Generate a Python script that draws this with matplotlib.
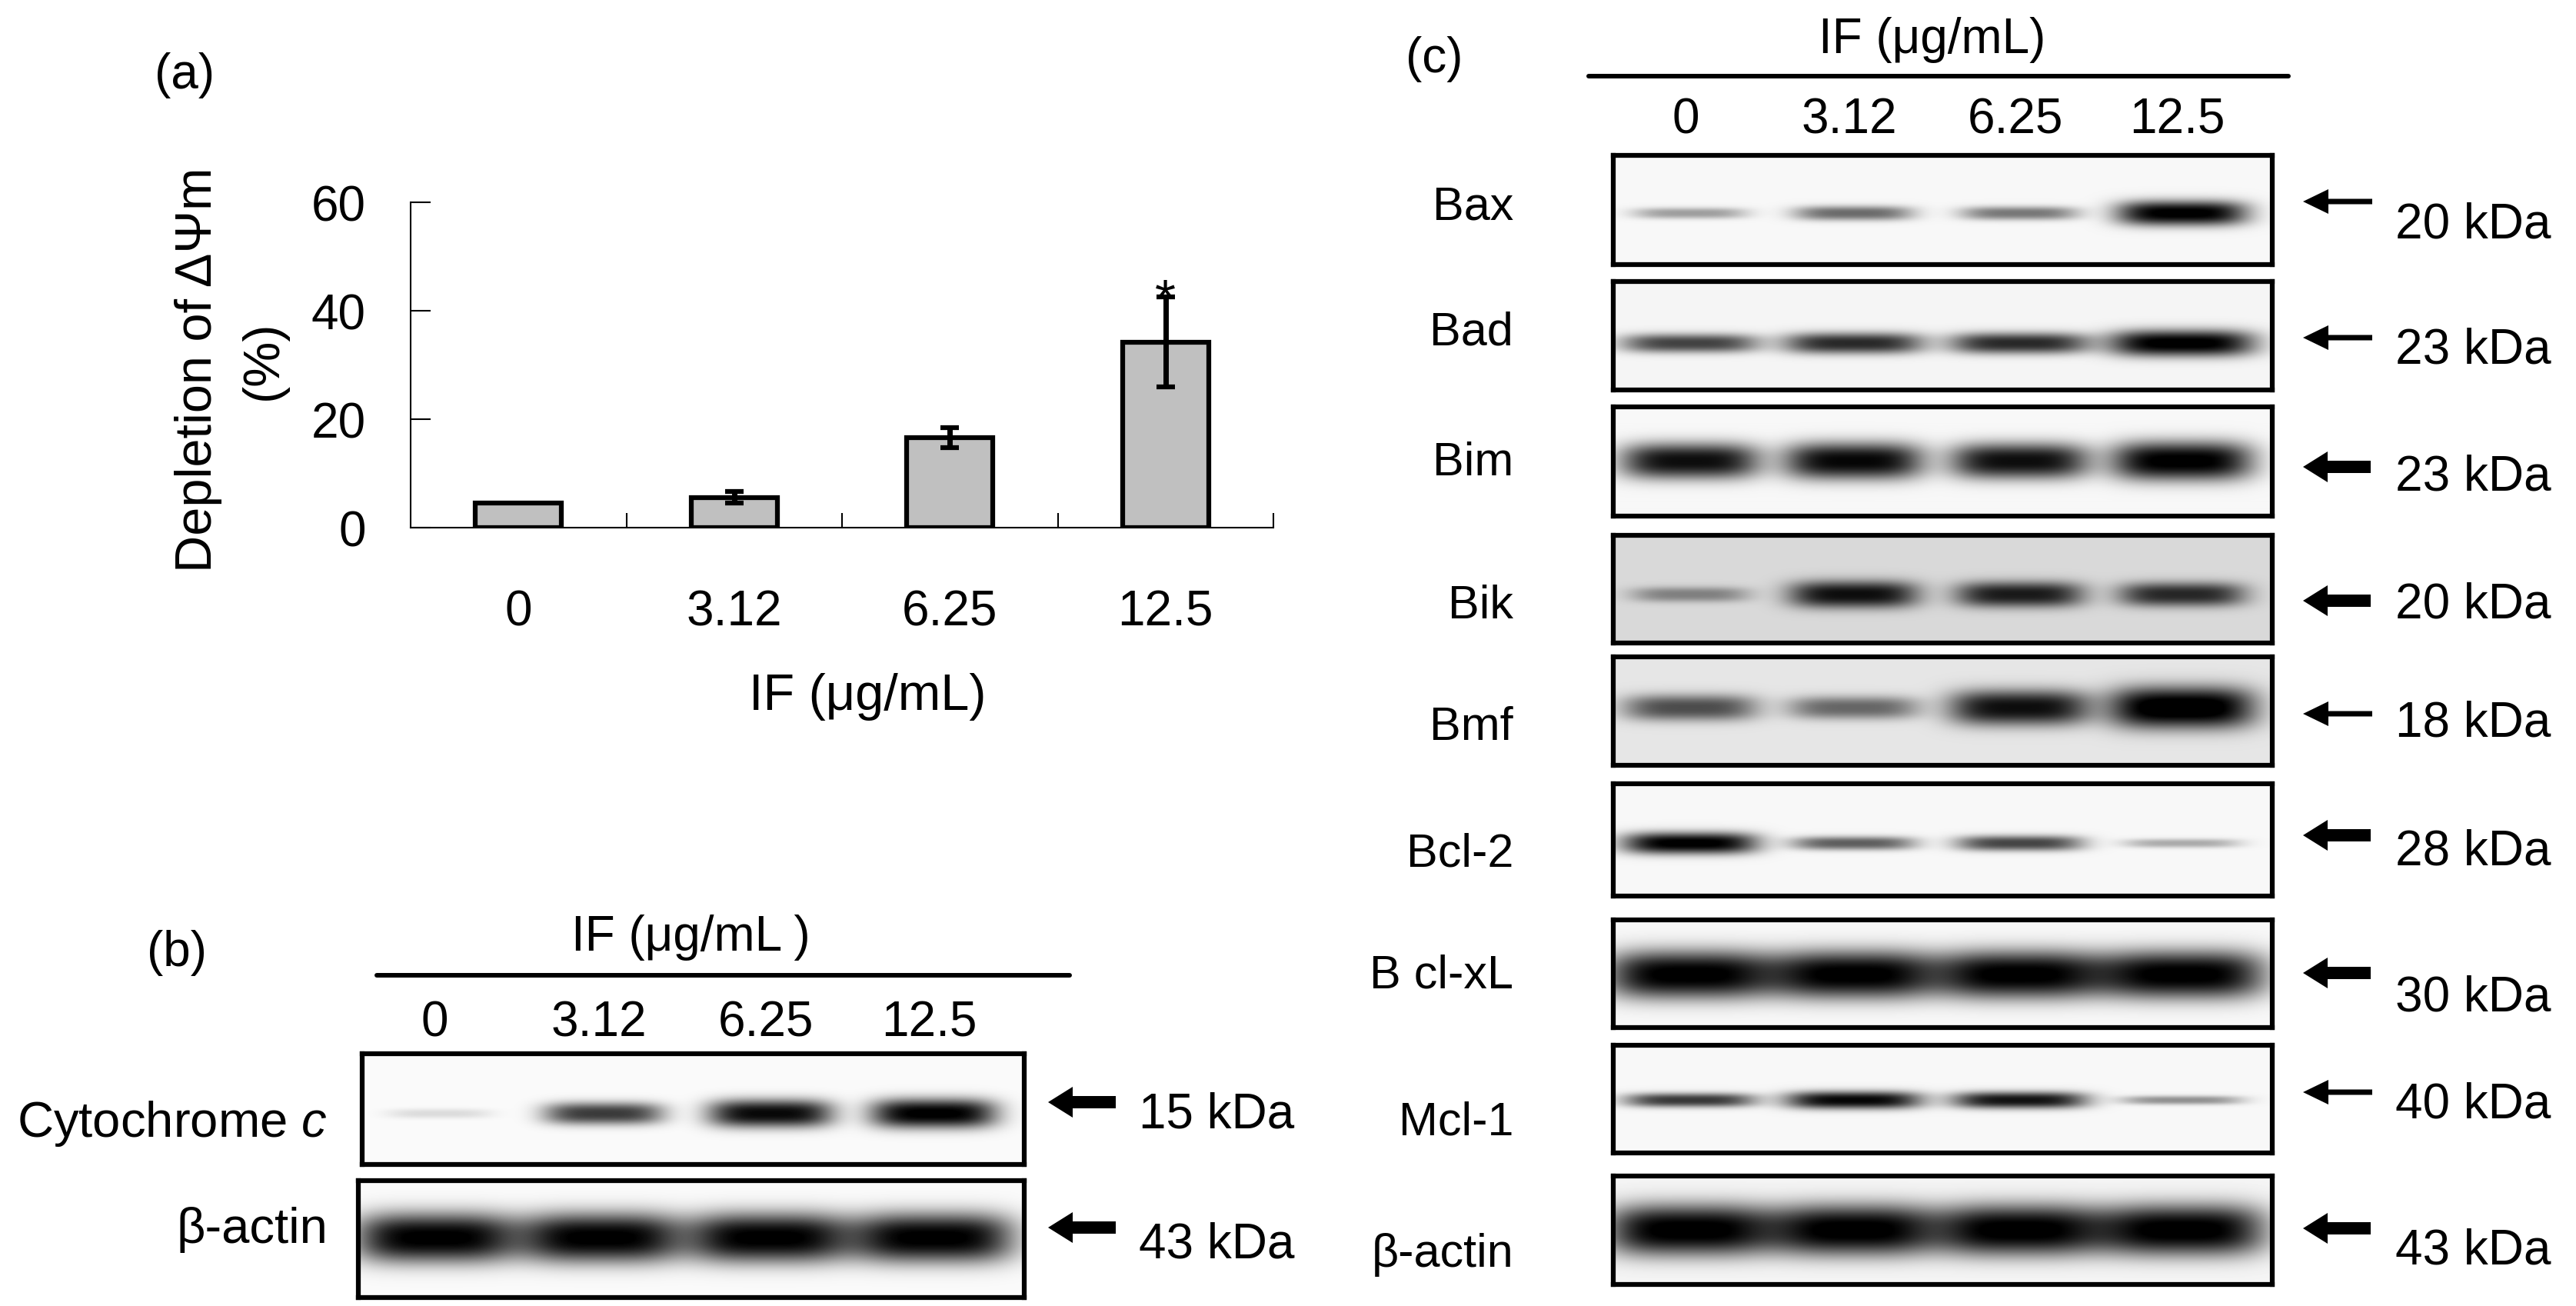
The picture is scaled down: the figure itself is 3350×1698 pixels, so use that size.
import numpy as np
import matplotlib.pyplot as plt
from matplotlib.patches import FancyArrow

plt.rcParams['font.family'] = ['Liberation Sans', 'DejaVu Sans']
plt.rcParams['mathtext.fontset'] = 'custom'
plt.rcParams['mathtext.rm'] = 'Liberation Sans'
plt.rcParams['mathtext.it'] = 'Liberation Sans:italic'

# (a) depletion of mitochondrial membrane potential
doses = ['0', '3.12', '6.25', '12.5']
depletion = [4.6, 5.6, 16.6, 34.2]
depletion_err = [0.0, 1.0, 1.85, 8.3]
significant = [False, False, False, True]

# (b) western blot, band darkness per lane (0 = none, 1 = saturated)
b_names = ['Cytochrome $\\it{c}$', 'β-actin']
b_kda = ['15 kDa', '43 kDa']
b_bands = [[0.12, 0.75, 0.95, 1.0],
           [1.0, 1.0, 1.0, 1.0]]

# (c) western blot
c_names = ['Bax', 'Bad', 'Bim', 'Bik', 'Bmf', 'Bcl-2', 'B cl-xL', 'Mcl-1', 'β-actin']
c_kda = ['20 kDa', '23 kDa', '23 kDa', '20 kDa', '18 kDa', '28 kDa', '30 kDa', '40 kDa', '43 kDa']
c_bands = [[0.35, 0.55, 0.5, 1.0],
           [0.7, 0.8, 0.8, 1.0],
           [0.92, 0.95, 0.92, 1.0],
           [0.35, 0.8, 0.75, 0.7],
           [0.6, 0.5, 0.85, 1.0],
           [1.0, 0.6, 0.7, 0.3],
           [1.0, 1.0, 1.0, 1.0],
           [0.75, 0.95, 0.9, 0.4],
           [1.0, 1.0, 1.0, 1.0]]

W, H = 3350, 1699
fig = plt.figure(figsize=(W / 100, H / 100), dpi=100)
FS = 46


def px_axes(x0, y0, x1, y1):
    # axes placed by pixel box, y measured from the top
    return fig.add_axes([x0 / W, 1 - y1 / H, (x1 - x0) / W, (y1 - y0) / H])


lane_frac = [0.117, 0.365, 0.617, 0.863]


def draw_blot(box, bands, yc, sy, wx, bg):
    x0, y0, x1, y1 = box
    ax = px_axes(x0, y0, x1, y1)
    bw, bh = x1 - x0, y1 - y0
    X, Y = np.meshgrid(np.arange(bw) + 0.5, np.arange(bh) + 0.5)
    dark = np.full(X.shape, bg)
    for k, v in enumerate(bands):
        cx = lane_frac[k] * bw
        s = sy * (0.3 + 0.7 * v ** 1.5)
        w = wx * (0.8 + 0.2 * v)
        dark += v * np.exp(-np.abs((X - cx) / w) ** 4) * np.exp(-np.abs((Y - yc * bh) / s) ** 2.5)
    dark = np.clip(dark, 0, 1)
    ax.imshow(dark, cmap='gray_r', vmin=0, vmax=1, extent=(0, bw, bh, 0),
              aspect='auto', interpolation='bilinear')
    ax.set_xticks([])
    ax.set_yticks([])
    for sp in ax.spines.values():
        sp.set_linewidth(4.5)
    return ax


# ---- panel (a) bar chart
ax = px_axes(534, 264, 1656, 687)
x = np.arange(len(doses))
ax.bar(x, depletion, width=0.40, color='#c0c0c0', edgecolor='black', linewidth=4.5, zorder=2)
err = np.array(depletion_err)
m = err > 0
ax.errorbar(x[m], np.array(depletion)[m], yerr=err[m], fmt='none', ecolor='black',
            elinewidth=5, capsize=8.5, capthick=4.5, zorder=3)
for i, s in enumerate(significant):
    if s:
        ax.annotate('*', xy=(x[i], depletion[i] + depletion_err[i]), xytext=(0, -17),
                    textcoords='offset points', ha='center', va='baseline', fontsize=50)
ax.set_xlim(-0.5, 3.5)
ax.set_ylim(0, 60)
ax.set_yticks([0, 20, 40, 60])
ax.set_xticks(x)
ax.set_xticklabels(doses)
ax.set_xticks(x + 0.5, minor=True)
ax.tick_params(axis='y', direction='in', length=19, width=1.5, pad=42, labelsize=FS)
ax.tick_params(axis='x', which='major', length=0, pad=57, labelsize=FS)
ax.tick_params(axis='x', which='minor', direction='in', length=14, width=1.5)
for side in ['top', 'right']:
    ax.spines[side].set_visible(False)
for side in ['left', 'bottom']:
    ax.spines[side].set_linewidth(1.5)

# ---- panel (b) blots
b_boxes = [(471, 1371, 1332, 1515), (466, 1536, 1332, 1688)]
b_style = [(0.54, 19, 82, 0.02), (0.49, 32, 105, 0.02)]
for box, bands, st in zip(b_boxes, b_bands, b_style):
    draw_blot(box, bands, *st)

# ---- panel (c) blots
c_tops = [203, 367, 530, 697, 855, 1020, 1197, 1360, 1530]
c_bots = [345, 508, 672, 837, 996, 1166, 1337, 1500, 1671]
c_style = [(0.53, 16, 85, 0.03), (0.57, 17, 95, 0.04), (0.50, 25, 92, 0.03),
           (0.55, 22, 88, 0.15), (0.47, 27, 95, 0.10), (0.53, 14, 88, 0.03),
           (0.51, 31, 108, 0.03), (0.51, 12, 90, 0.03), (0.50, 33, 108, 0.04)]
for t, b, bands, st in zip(c_tops, c_bots, c_bands, c_style):
    draw_blot((2098, t, 2955, b), bands, *st)

# ---- overlay for labels, lines and arrows (pixel coordinates)
ov = fig.add_axes([0, 0, 1, 1])
ov.set_xlim(0, W)
ov.set_ylim(H, 0)
ov.axis('off')


def arrow(xtip, y, thick):
    if thick:
        a = FancyArrow(xtip + 88, y, -88, 0, width=16, head_width=40, head_length=32,
                       length_includes_head=True, color='black', lw=0)
    else:
        a = FancyArrow(xtip + 90, y, -90, 0, width=7, head_width=32, head_length=33,
                       length_includes_head=True, color='black', lw=0)
    ov.add_patch(a)


ov.text(240, 115, '(a)', ha='center', va='baseline', fontsize=FS)
ov.text(230, 1256, '(b)', ha='center', va='baseline', fontsize=FS)
ov.text(1865, 94, '(c)', ha='center', va='baseline', fontsize=FS)

ov.text(275, 481, 'Depletion of ΔΨm', rotation=90, rotation_mode='anchor',
        ha='center', va='baseline', fontsize=48)
ov.text(360, 468, '(%)', rotation=90, rotation_mode='anchor',
        ha='center', va='baseline', fontsize=48)
ov.text(1128, 923, 'IF (μg/mL)', ha='center', va='baseline', fontsize=48)

# panel (b) header, lanes, names
ov.text(898, 1236, 'IF (μg/mL )', ha='center', va='baseline', fontsize=FS)
ov.plot([490, 1391], [1269, 1269], color='black', lw=4.3, solid_capstyle='round')
for k, d in enumerate(doses):
    ov.text(471 + lane_frac[k] * 861 - 6, 1348, d, ha='center', va='baseline', fontsize=FS)
for name, kda, yb, ya, ykb in zip(b_names, b_kda, [1478, 1616], [1434, 1597], [1467, 1636]):
    ov.text(426, yb, name, ha='right', va='baseline', fontsize=47)
    arrow(1363, ya, True)
    ov.text(1481, ykb, kda, ha='left', va='baseline', fontsize=FS)

# panel (c) header, lanes, names
ov.text(2513, 69, 'IF (μg/mL)', ha='center', va='baseline', fontsize=FS)
ov.plot([2066, 2976], [100, 100], color='black', lw=4.3, solid_capstyle='round')
for k, d in enumerate(doses):
    ov.text(2098 + lane_frac[k] * 857 - 6, 174, d, ha='center', va='baseline', fontsize=FS)

c_name_base = [286, 449, 618, 804, 962, 1127, 1285, 1476, 1647]
c_kda_base = [310, 473, 638, 804, 958, 1125, 1315, 1454, 1644]
c_arrow_y = [263, 440, 608, 782, 929, 1087, 1266, 1421, 1598]
c_thick = [False, False, True, True, False, True, True, False, True]
for name, kda, yn, yk, ya, th in zip(c_names, c_kda, c_name_base, c_kda_base, c_arrow_y, c_thick):
    ov.text(1968, yn, name, ha='right', va='baseline', fontsize=44)
    arrow(2995, ya, th)
    ov.text(3115, yk, kda, ha='left', va='baseline', fontsize=FS)

fig.savefig('out.png', dpi=100)
